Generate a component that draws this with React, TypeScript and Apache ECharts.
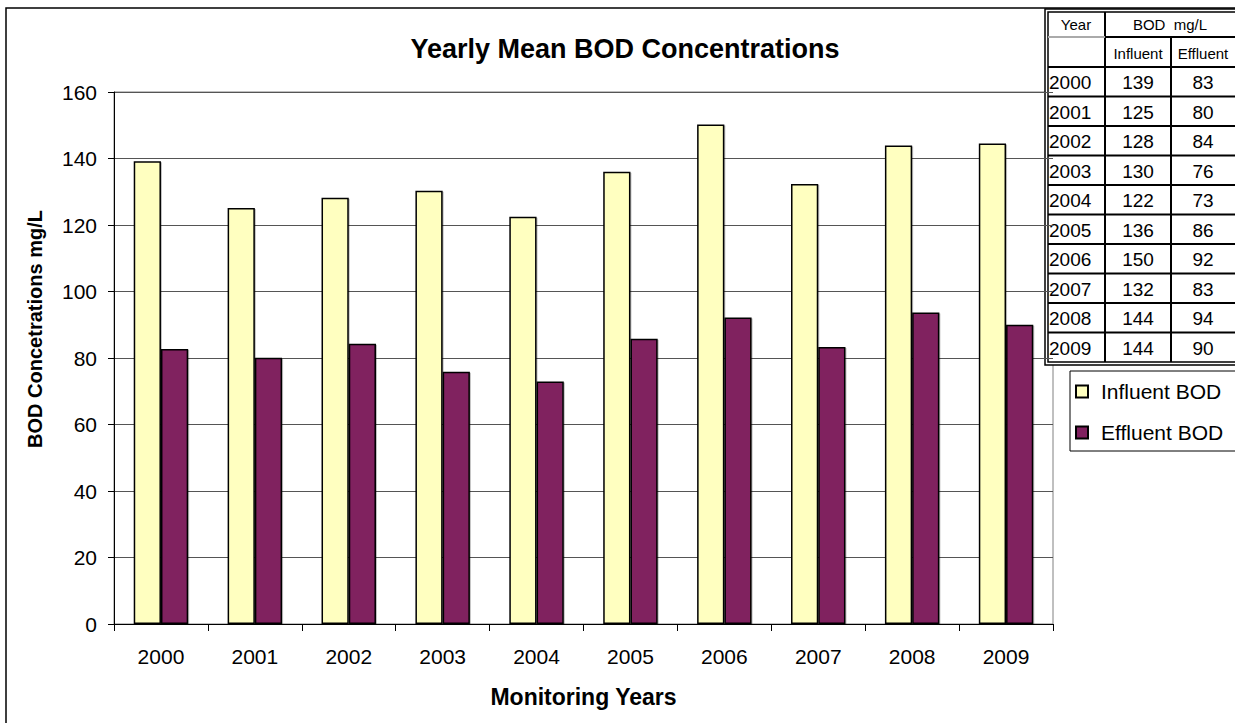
import React, { useEffect, useRef } from "react";
import * as echarts from "echarts";

const years = ["2000", "2001", "2002", "2003", "2004", "2005", "2006", "2007", "2008", "2009"];
const influent = [139.2, 125.1, 128.2, 130.3, 122.5, 136.0, 150.2, 132.3, 143.9, 144.5];
const effluent = [82.7, 80.1, 84.3, 75.9, 72.9, 85.8, 92.2, 83.3, 93.7, 90.0];
const tableInfluent = ["139", "125", "128", "130", "122", "136", "150", "132", "144", "144"];
const tableEffluent = ["83", "80", "84", "76", "73", "86", "92", "83", "94", "90"];
const seriesNames = ["Influent BOD", "Effluent BOD"];
const titleText = "Yearly Mean BOD Concentrations";
const yAxisName = "BOD Concetrations mg/L";
const xAxisName = "Monitoring Years";

const FONT = "'Liberation Sans', Arial, sans-serif";

export default function App() {
  const ref = useRef<HTMLDivElement>(null);
  useEffect(() => {
    if (!ref.current) return;
    const chart = echarts.init(ref.current, null, { renderer: "svg" });

    const tX = 1045;
    const tY = 9;
    const col1 = 1105;
    const col2 = 1171;
    const rowTop = 67;
    const rowH = 29.5;
    const tBottom = rowTop + rowH * years.length;
    const tableEls: any[] = [];
    tableEls.push({
      type: "rect",
      shape: { x: tX, y: tY, width: 220, height: tBottom - tY + 3 },
      style: { fill: "#fff", stroke: "#000", lineWidth: 1.5 },
    });
    tableEls.push({
      type: "rect",
      shape: { x: tX + 3, y: tY + 3, width: 220, height: tBottom - tY - 3 },
      style: { fill: "none", stroke: "#000", lineWidth: 1.5 },
    });
    tableEls.push({ type: "line", shape: { x1: col1, y1: tY + 3, x2: col1, y2: tBottom }, style: { stroke: "#000", lineWidth: 2 } });
    tableEls.push({ type: "line", shape: { x1: col2, y1: 37, x2: col2, y2: tBottom }, style: { stroke: "#000", lineWidth: 2 } });
    tableEls.push({ type: "line", shape: { x1: col1, y1: 37, x2: 1240, y2: 37 }, style: { stroke: "#000", lineWidth: 2 } });
    tableEls.push({ type: "line", shape: { x1: tX + 3, y1: 37, x2: col1, y2: 37 }, style: { stroke: "#aaa", lineWidth: 2 } });
    for (let i = 0; i < years.length; i++) {
      const y = rowTop + rowH * i;
      tableEls.push({ type: "line", shape: { x1: tX + 3, y1: y, x2: 1240, y2: y }, style: { stroke: "#000", lineWidth: 2 } });
      const cy = y + rowH / 2 + 1;
      tableEls.push({ type: "text", style: { x: 1049, y: cy, text: years[i], font: `19px ${FONT}`, fill: "#000", textAlign: "left", textVerticalAlign: "middle" } });
      tableEls.push({ type: "text", style: { x: (col1 + col2) / 2, y: cy, text: tableInfluent[i], font: `19px ${FONT}`, fill: "#000", textAlign: "center", textVerticalAlign: "middle" } });
      tableEls.push({ type: "text", style: { x: (col2 + 1235) / 2, y: cy, text: tableEffluent[i], font: `19px ${FONT}`, fill: "#000", textAlign: "center", textVerticalAlign: "middle" } });
    }
    tableEls.push({ type: "text", style: { x: 1076, y: 24, text: "Year", font: `15px ${FONT}`, fill: "#000", textAlign: "center", textVerticalAlign: "middle" } });
    tableEls.push({ type: "text", style: { x: 1170, y: 24, text: "BOD  mg/L", font: `15px ${FONT}`, fill: "#000", textAlign: "center", textVerticalAlign: "middle" } });
    tableEls.push({ type: "text", style: { x: (col1 + col2) / 2, y: 53, text: "Influent", font: `15px ${FONT}`, fill: "#000", textAlign: "center", textVerticalAlign: "middle" } });
    tableEls.push({ type: "text", style: { x: (col2 + 1235) / 2, y: 53, text: "Effluent", font: `15px ${FONT}`, fill: "#000", textAlign: "center", textVerticalAlign: "middle" } });

    chart.setOption({
      animation: false,
      backgroundColor: "#fff",
      title: {
        text: titleText,
        left: 620,
        top: 30,
        textAlign: "center",
        textStyle: { fontFamily: FONT, fontSize: 27, fontWeight: "bold", color: "#000" },
      },
      grid: {
        left: 114,
        right: 182,
        top: 92,
        bottom: 99,
        show: true,
        borderColor: "#808080",
        borderWidth: 1,
        backgroundColor: "transparent",
      },
      legend: {
        orient: "vertical",
        left: 1075,
        top: 381,
        padding: 0,
        z: 20,
        itemWidth: 12,
        itemHeight: 12,
        itemGap: 20,
        icon: "rect",
        textStyle: { fontFamily: FONT, fontSize: 21, color: "#000", padding: [0, 0, 0, 8] },
        data: seriesNames,
      },
      xAxis: {
        type: "category",
        data: years,
        boundaryGap: true,
        axisLine: { lineStyle: { color: "#000", width: 1 } },
        axisTick: { show: true, length: 7, inside: false, lineStyle: { color: "#000" } },
        axisLabel: { fontFamily: FONT, fontSize: 21, color: "#000", margin: 22 },
        name: xAxisName,
        nameLocation: "middle",
        nameGap: 61,
        nameTextStyle: { fontFamily: FONT, fontSize: 23, fontWeight: "bold", color: "#000" },
      },
      yAxis: {
        type: "value",
        min: 0,
        max: 160,
        interval: 20,
        axisLine: { show: true, lineStyle: { color: "#000", width: 1 } },
        axisTick: { show: true, length: 6, lineStyle: { color: "#000" } },
        axisLabel: { fontFamily: FONT, fontSize: 21, color: "#000", margin: 17 },
        splitLine: { show: true, lineStyle: { color: "#555", width: 1 } },
      },
      series: [
        {
          name: seriesNames[0],
          type: "bar",
          data: influent,
          barGap: "0%",
          barCategoryGap: "42%",
          itemStyle: { color: "#FFFFC0", borderColor: "#000", borderWidth: 1.5, shadowColor: "rgba(0,0,0,0.25)", shadowOffsetX: 1, shadowOffsetY: 1, shadowBlur: 1 },
        },
        {
          name: seriesNames[1],
          type: "bar",
          data: effluent,
          barGap: "0%",
          barCategoryGap: "42%",
          itemStyle: { color: "#80205F", borderColor: "#000", borderWidth: 1.5, shadowColor: "rgba(0,0,0,0.25)", shadowOffsetX: 1, shadowOffsetY: 1, shadowBlur: 1 },
        },
      ],
      graphic: [
        {
          type: "rect",
          z: -10,
          silent: true,
          shape: { x: 6, y: 8, width: 1400, height: 900 },
          style: { fill: "none", stroke: "#000", lineWidth: 1.5 },
        },
        {
          type: "text",
          x: 35,
          y: 329,
          rotation: Math.PI / 2,
          style: {
            text: yAxisName,
            font: `bold 20px ${FONT}`,
            fill: "#000",
            textAlign: "center",
            textVerticalAlign: "middle",
          },
        },
        {
          type: "group",
          z: 10,
          children: tableEls,
        },
        {
          type: "rect",
          z: 5,
          shape: { x: 1070, y: 371, width: 200, height: 80 },
          style: { fill: "#fff", stroke: "#000", lineWidth: 1 },
        },
      ],
    });
    return () => chart.dispose();
  }, []);
  return (
    <div
      ref={ref}
      style={{ position: "fixed", left: 0, top: 0, width: 1235, height: 723, background: "#fff" }}
    />
  );
}
